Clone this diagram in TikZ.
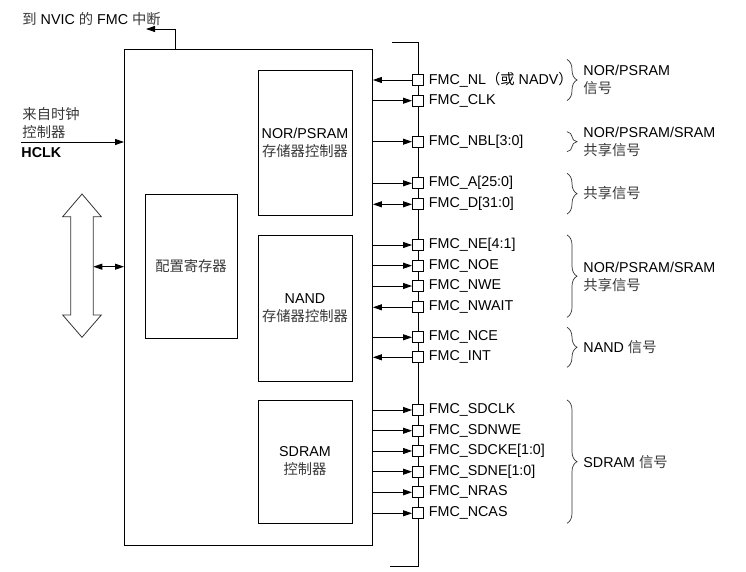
\documentclass[tikz,border=0pt]{standalone}
\usepackage{fontspec}
\setmainfont{Liberation Sans}
\newfontfamily\cjk{Noto Sans CJK SC}
\usetikzlibrary{arrows.meta,decorations.pathreplacing}
\definecolor{cjkgray}{gray}{0.22}
\newcommand\zh[1]{{\cjk\color{cjkgray}#1}}
\tikzset{
  arrR/.style={-{Triangle[length=9pt,width=6pt]}},
  arrL/.style={{Triangle[length=9pt,width=6pt]}-},
  arrB/.style={{Triangle[length=9pt,width=6pt]}-{Triangle[length=9pt,width=6pt]}},
  blk/.style={draw, inner sep=0, align=center},
  sq/.style={draw, fill=white, minimum size=11pt, inner sep=0},
  lbl/.style={anchor=west, inner sep=0, xshift=4.5pt},
  grp/.style={anchor=west, inner sep=0, align=left},
  brc/.style={decorate, decoration={brace, amplitude=10pt}, line width=0.7pt, black!80},
}
\newcommand\sigline[4]{%
  \node[sq] (#1) at (418,#2) {};
  \node[lbl] (#1t) at (#1.east) {#3};
  \draw[#4] (fmc.east |- #1) -- (#1.west);
}
\begin{document}
\begin{tikzpicture}[x=1pt, y=-1pt, line width=0.9pt, font=\fontsize{14.3}{18}\selectfont]
\useasboundingbox (0,0) rectangle (746,572);

% main FMC box
\node[draw, minimum width=248pt, minimum height=496pt, anchor=north west, inner sep=0] (fmc) at (124,49) {};

% inner blocks
\node[blk, minimum width=94pt, minimum height=145pt] (nor) at (305,142.5) {NOR/PSRAM\\\zh{存储器控制器}};
\node[blk, minimum width=94pt, minimum height=146pt] (nand) at (305,308) {NAND\\\zh{存储器控制器}};
\node[blk, minimum width=94pt, minimum height=123pt] (sdram) at (305,461.5) {SDRAM\\\zh{控制器}};
\node[blk, minimum width=92pt, minimum height=144pt] (cfg) at (191,266) {\zh{配置寄存器}};

% interrupt output
\node[anchor=west, inner sep=0] (title) at (22,19) {\zh{到} NVIC \zh{的} FMC \zh{中断}};
\coordinate (irq) at (146,29);
\draw[arrR] ([xshift=51pt]fmc.north west) |- (irq);

% HCLK input
\node[grp] (clksrc) at (22,123.5) {\zh{来自时钟}\\\zh{控制器}};
\node[anchor=west, inner sep=0] (hclk) at (21,153) {\bfseries HCLK};
\coordinate (hclkin) at (21,142);
\draw[arrR] (hclkin) -- (fmc.west |- hclkin);

% AHB bus (hollow double arrow)
\draw[black!80, line width=0.8pt] (82,194) -- (101.3,216.7) -- (93.3,216.7) -- (93.3,315) -- (101.3,315)
  -- (82,337.3) -- (62.7,315) -- (70.7,315) -- (70.7,216.7) -- (62.7,216.7) -- cycle;
\coordinate (busR) at (93.3,266.7);
\draw[arrB] (busR) -- (fmc.west |- busR);

% pin bus line
\coordinate (bt0) at (392,42);
\coordinate (bt1) at (418,42);
\coordinate (bb1) at (418,566);
\coordinate (bb0) at (390,566);
\draw (bt0) -- (bt1) -- (bb1) -- (bb0);

% signals
\sigline{nl}{80}{FMC\_NL{\cjk （或} NADV{\cjk ）}}{arrL}
\sigline{clk}{100.7}{FMC\_CLK}{arrR}
\sigline{nbl}{141.7}{FMC\_NBL[3:0]}{arrR}
\sigline{addr}{183.3}{FMC\_A[25:0]}{arrR}
\sigline{data}{204.3}{FMC\_D[31:0]}{arrB}
\sigline{ne}{245}{FMC\_NE[4:1]}{arrR}
\sigline{noe}{265.7}{FMC\_NOE}{arrR}
\sigline{nwe}{286}{FMC\_NWE}{arrR}
\sigline{nwait}{307.3}{FMC\_NWAIT}{arrL}
\sigline{nce}{337.3}{FMC\_NCE}{arrR}
\sigline{int}{357.3}{FMC\_INT}{arrL}
\sigline{sdclk}{410}{FMC\_SDCLK}{arrR}
\sigline{sdnwe}{430.7}{FMC\_SDNWE}{arrR}
\sigline{sdcke}{451}{FMC\_SDCKE[1:0]}{arrR}
\sigline{sdne}{471.7}{FMC\_SDNE[1:0]}{arrR}
\sigline{nras}{492.3}{FMC\_NRAS}{arrR}
\sigline{ncas}{513.3}{FMC\_NCAS}{arrR}

% braces and group labels
\draw[brc] (567,59.5) -- (567,100.5);
\node[grp] (g1) at (583,80) {NOR/PSRAM\\\zh{信号}};
\draw[brc] (567,131.7) -- (567,151.7);
\node[grp] (g2) at (583,142) {NOR/PSRAM/SRAM\\\zh{共享信号}};
\draw[brc] (567,173.3) -- (567,214);
\node[grp] (g3) at (583,193.5) {\zh{共享信号}};
\draw[brc] (567,235) -- (567,317.3);
\node[grp] (g4) at (583,276.7) {NOR/PSRAM/SRAM\\\zh{共享信号}};
\draw[brc] (567,327.3) -- (567,367.3);
\node[grp] (g5) at (583,347.5) {NAND \zh{信号}};
\draw[brc] (567,400) -- (567,523.3);
\node[grp] (g6) at (583,461.7) {SDRAM \zh{信号}};
\end{tikzpicture}
\end{document}
